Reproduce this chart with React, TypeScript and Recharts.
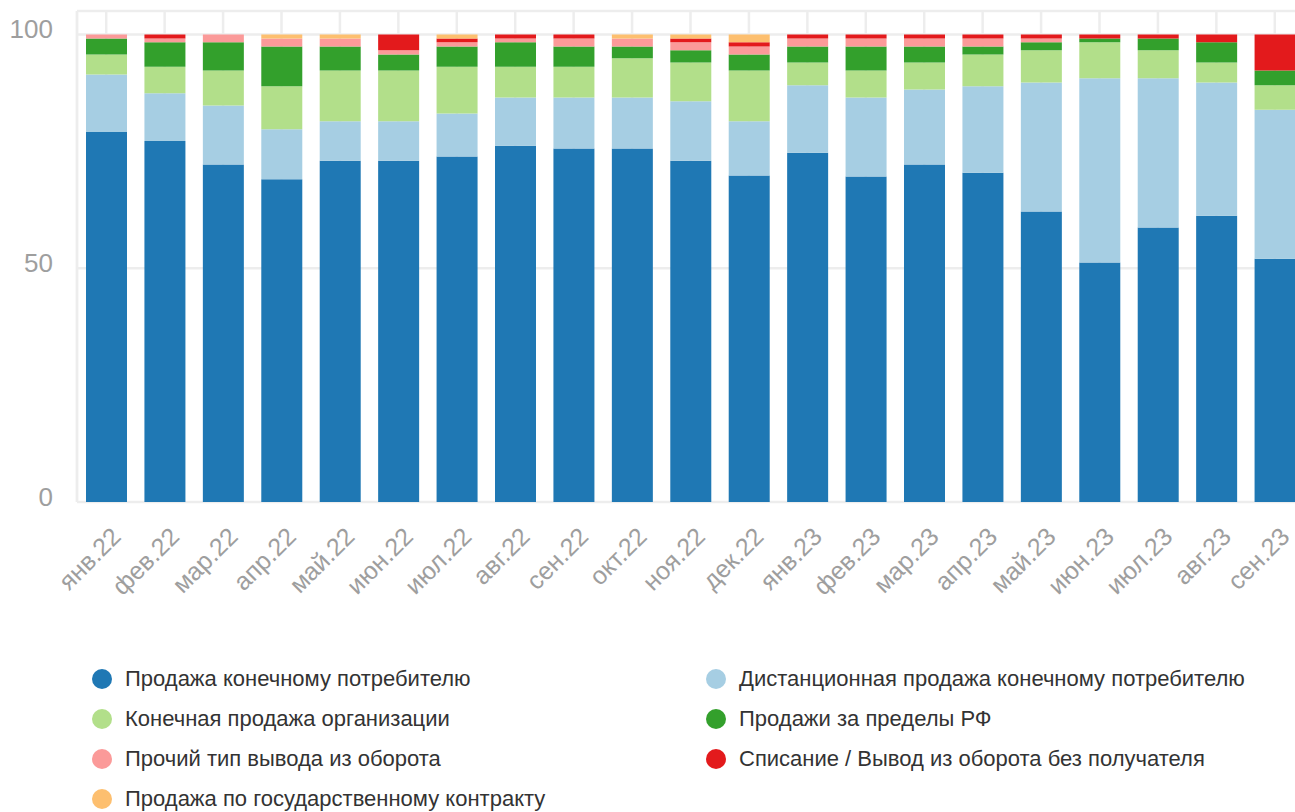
import { Bar, BarChart, CartesianGrid, XAxis, YAxis } from "recharts";

const months = [
  "янв.22", "фев.22", "мар.22", "апр.22", "май.22", "июн.22", "июл.22",
  "авг.22", "сен.22", "окт.22", "ноя.22", "дек.22", "янв.23", "фев.23",
  "мар.23", "апр.23", "май.23", "июн.23", "июл.23", "авг.23", "сен.23"
];

const consumerSales = [79.1, 77.2, 72.2, 69.0, 73.0, 73.0, 73.9, 76.2, 75.6, 75.6, 73.0, 69.8, 74.7, 69.6, 72.2, 70.4, 62.1, 51.2, 58.7, 61.2, 52.0];
const remoteSales = [12.3, 10.2, 12.6, 10.7, 8.4, 8.4, 9.2, 10.3, 10.9, 10.9, 12.7, 11.6, 14.4, 16.9, 16.0, 18.5, 27.6, 39.4, 31.9, 28.5, 31.9];
const orgSales = [4.3, 5.7, 7.5, 9.2, 10.9, 10.9, 10.0, 6.6, 6.6, 8.4, 8.3, 10.9, 4.9, 5.8, 5.8, 6.8, 6.9, 7.7, 6.0, 4.3, 5.2];
const exportSales = [3.4, 5.2, 6.0, 8.5, 5.1, 3.4, 4.3, 5.2, 4.3, 2.5, 2.6, 3.4, 3.4, 5.1, 3.4, 1.7, 1.7, 0.8, 2.5, 4.3, 3.2];
const otherWithdrawal = [0.9, 0.8, 1.7, 1.7, 1.7, 0.9, 0.9, 0.8, 1.7, 1.7, 1.7, 1.7, 1.7, 1.7, 1.7, 1.7, 0.8, 0, 0, 0, 0];
const writeOff = [0, 0.9, 0, 0, 0, 3.4, 0.8, 0.9, 0.9, 0, 0.8, 0.9, 0.9, 0.9, 0.9, 0.9, 0.9, 0.9, 0.9, 1.7, 7.7];
const stateContract = [0, 0, 0, 0.9, 0.9, 0, 0.9, 0, 0, 0.9, 0.9, 1.7, 0, 0, 0, 0, 0, 0, 0, 0, 0];

const yTicks = [0, 50, 100];

const series = [
  { key: "consumer", name: "Продажа конечному потребителю", color: "#1f78b4", values: consumerSales },
  { key: "remote", name: "Дистанционная продажа конечному потребителю", color: "#a6cee3", values: remoteSales },
  { key: "org", name: "Конечная продажа организации", color: "#b2df8a", values: orgSales },
  { key: "export", name: "Продажи за пределы РФ", color: "#33a02c", values: exportSales },
  { key: "other", name: "Прочий тип вывода из оборота", color: "#fb9a99", values: otherWithdrawal },
  { key: "writeoff", name: "Списание / Вывод из оборота без получателя", color: "#e31a1c", values: writeOff },
  { key: "state", name: "Продажа по государственному контракту", color: "#fdbf6f", values: stateContract }
];

const data = months.map((month, i) => {
  const row: Record<string, string | number> = { month };
  series.forEach((s) => {
    row[s.key] = s.values[i];
  });
  return row;
});

const FONT = "'Liberation Sans', Arial, Helvetica, sans-serif";
const TICK_COLOR = "#9e9e9e";
const GRID_COLOR = "#ededed";

function MonthTick({ x, y, payload }: any) {
  return (
    <g transform={`translate(${x + 10},${y + 30})`}>
      <text
        transform="rotate(-45)"
        textAnchor="end"
        dy="0.35em"
        fill={TICK_COLOR}
        fontSize={25}
        fontFamily={FONT}
      >
        {payload.value}
      </text>
    </g>
  );
}

function ValueTick({ x, y, payload }: any) {
  return (
    <text x={x} y={y - 5} textAnchor="end" dy="0.35em" fill={TICK_COLOR} fontSize={26} fontFamily={FONT}>
      {payload.value}
    </text>
  );
}

function LegendBlock() {
  return (
    <div
      style={{
        position: "absolute",
        left: 92,
        top: 665,
        display: "grid",
        gridTemplateColumns: "614px 580px",
        rowGap: 12,
        fontFamily: FONT,
        fontSize: 22,
        color: "#333"
      }}
    >
      {series.map((s) => (
        <div key={s.key} style={{ display: "flex", alignItems: "center", height: 28 }}>
          <span
            style={{
              width: 20,
              height: 20,
              borderRadius: "50%",
              background: s.color,
              marginRight: 13,
              flexShrink: 0
            }}
          />
          <span>{s.name}</span>
        </div>
      ))}
    </div>
  );
}

export default function App() {
  return (
    <div
      style={{
        position: "fixed",
        left: 0,
        top: 0,
        width: 1295,
        height: 812,
        overflow: "hidden",
        background: "#fff"
      }}
    >
      <BarChart
        width={1304}
        height={640}
        data={data}
        margin={{ top: 11, right: 0, bottom: 0, left: 0 }}
        barSize={41}
      >
        <CartesianGrid stroke={GRID_COLOR} strokeWidth={2.5} />
        <XAxis
          dataKey="month"
          height={138}
          axisLine={false}
          tickLine={false}
          tickSize={0}
          tickMargin={0}
          interval={0}
          tick={<MonthTick />}
        />
        <YAxis
          width={77}
          domain={[0, 105]}
          ticks={yTicks}
          allowDataOverflow
          axisLine={{ stroke: GRID_COLOR, strokeWidth: 2.5 }}
          tickLine={false}
          tickSize={0}
          tickMargin={24}
          tick={<ValueTick />}
        />
        {series.map((s) => (
          <Bar
            key={s.key}
            dataKey={s.key}
            name={s.name}
            stackId="total"
            fill={s.color}
            isAnimationActive={false}
          />
        ))}
      </BarChart>
      <LegendBlock />
    </div>
  );
}
